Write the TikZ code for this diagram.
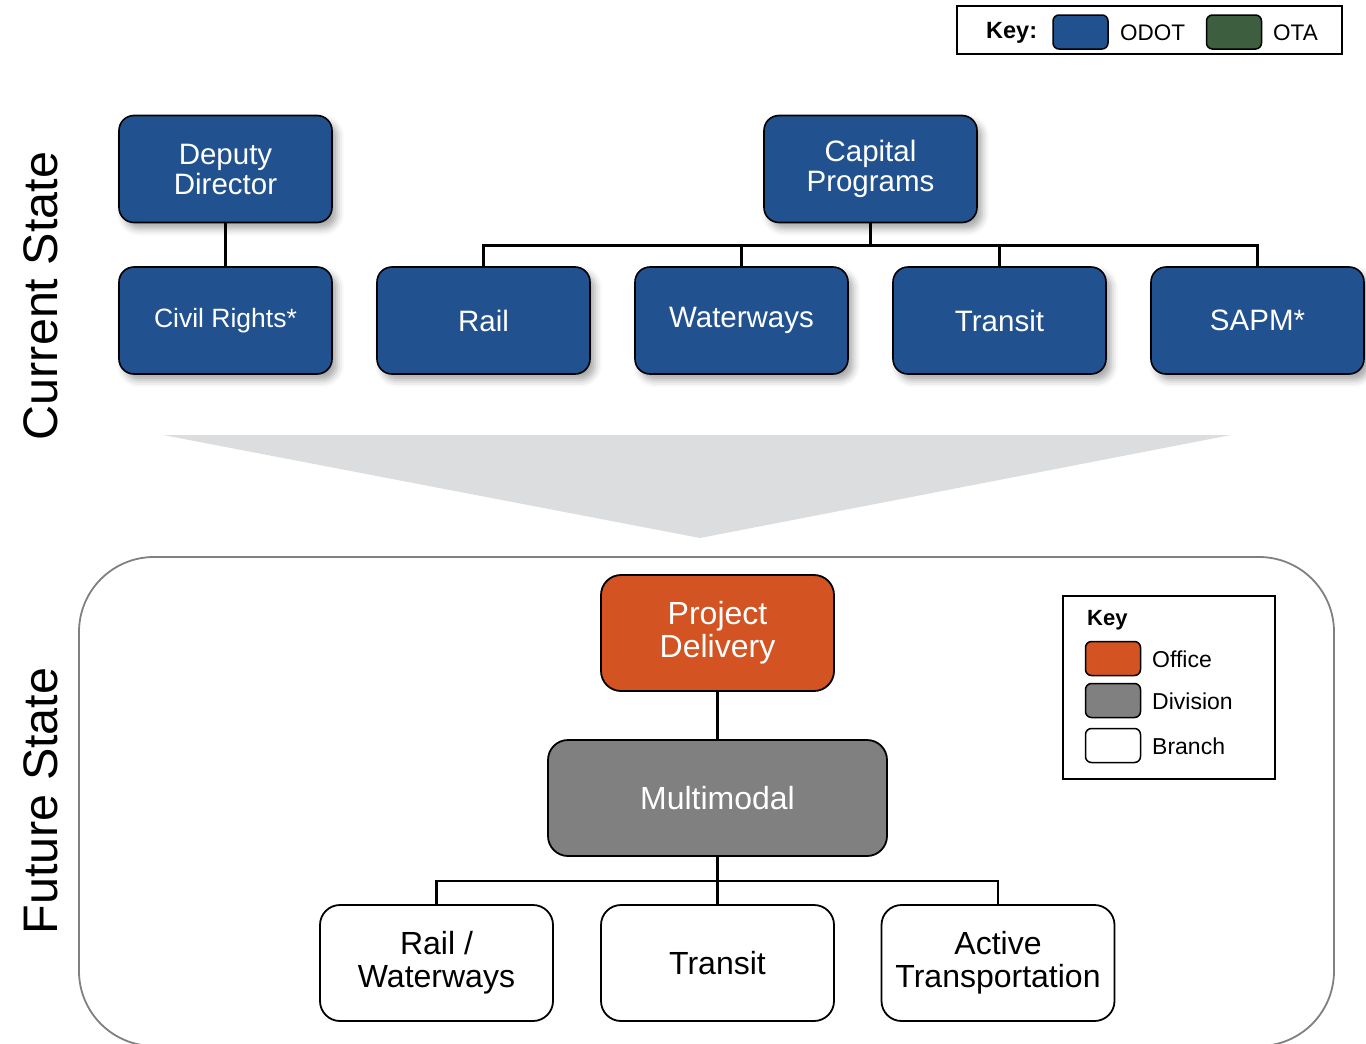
\documentclass[tikz,border=0pt]{standalone}
\usepackage{fontspec}
\setmainfont{Liberation Sans}
\definecolor{ODOTBlue}{HTML}{21528F}
\definecolor{OTAGreen}{HTML}{3D5E3F}
\definecolor{OfficeOrange}{HTML}{D35322}
\definecolor{DivGray}{HTML}{808080}
\definecolor{FunnelGray}{HTML}{DCDDDE}
\usetikzlibrary{positioning,shadows.blur,calc}
\begin{document}
\begin{tikzpicture}[x=1pt, y=-1pt,
    unit/.style={rectangle, rounded corners=15pt, draw=black, line width=1.6pt, fill=ODOTBlue,
      text=white, minimum width=213pt, minimum height=107pt, align=center,
      font=\fontsize{29.5}{30}\selectfont,
      blur shadow={shadow xshift=5pt, shadow yshift=-6pt, shadow blur radius=7pt, shadow opacity=35}},
    future/.style={rectangle, rounded corners=20pt, draw=black, line width=1.8pt, fill=#1,
      minimum width=233pt, minimum height=116pt, align=center, font=\fontsize{32}{33}\selectfont},
    swatch/.style={rectangle, rounded corners=6pt, draw=black, line width=1.5pt, fill=#1,
      minimum width=55pt, minimum height=34pt},
    keytext/.style={anchor=west, font=\fontsize{23}{24}\selectfont},
    link/.style={line width=2.4pt},
    every node/.style={inner sep=0pt}]
    \clip (0,0) rectangle (1366,1044);
    \useasboundingbox (0,0) rectangle (1366,1044);
    % top key
    \node[draw, line width=1.5pt, minimum width=385pt, minimum height=48pt] (topkey) at (1149.5,30) {};
    \node[keytext, font=\fontsize{23.5}{24}\selectfont\bfseries] (topkeylbl) at (986,33) {Key:};
    \node[swatch=ODOTBlue] (odotsw) at (1080.5,32) {};
    \node[keytext, font=\fontsize{22.5}{24}\selectfont] (odotlbl) at (1120,33) {ODOT};
    \node[swatch=OTAGreen] (otasw) at (1234,32) {};
    \node[keytext, font=\fontsize{22.5}{24}\selectfont] (otalbl) at (1273,33) {OTA};
    % current state
    \node[rotate=90, font=\fontsize{48.5}{50}\selectfont] (curstate) at (41,296) {Current State};
    \node[unit] (deputy) at (225.5,169) {Deputy\\Director};
    \node[unit] (capital) at (870.5,169) {Capital\\Programs};
    \node[unit, font=\fontsize{26.5}{28}\selectfont] (civil) at (225.5,320.5) {Civil Rights*};
    \node[unit] (rail) at (483.5,320.5) {Rail};
    \node[unit] (waterways) at (741.5,320.5) {Waterways};
    \node[unit] (transit) at (999.5,320.5) {Transit};
    \node[unit] (sapm) at (1257.5,320.5) {SAPM*};
    \draw[link] (deputy) -- (civil);
    \foreach \n in {rail,waterways,transit,sapm}
      \draw[link] (capital.south) -- ++(0,22) -| (\n.north);
    % funnel
    \fill[FunnelGray] (163,435) -- (1231,435) -- (700,538) -- cycle;
    % future state
    \draw[DivGray, line width=1.8pt, rounded corners=75pt] (79,557) rectangle (1334,1046);
    \node[rotate=90, font=\fontsize{48.5}{50}\selectfont] (futstate) at (41,801) {Future State};
    \node[future=OfficeOrange, text=white] (delivery) at (717.5,633) {Project\\Delivery};
    \node[future=DivGray, text=white, minimum width=339pt] (multimodal) at (717.5,798) {Multimodal};
    \node[future=white] (railwater) at (436.5,963) {Rail /\\Waterways};
    \node[future=white] (futtransit) at (717.5,963) {Transit};
    \node[future=white] (active) at (998,963) {Active\\Transportation};
    \draw[link] (delivery) -- (multimodal);
    \foreach \n in {railwater,futtransit,active}
      \draw[link] (multimodal.south) -- ++(0,24) -| (\n.north);
    % bottom key
    \node[draw, line width=1.5pt, minimum width=212pt, minimum height=183pt] (botkey) at (1169,687.5) {};
    \node[keytext, font=\fontsize{22}{24}\selectfont\bfseries] (botkeylbl) at (1087,620) {Key};
    \node[swatch=OfficeOrange] (officesw) at (1113,658.5) {};
    \node[keytext] (officelbl) at (1152,659) {Office};
    \node[swatch=DivGray] (divsw) at (1113,700.5) {};
    \node[keytext] (divlbl) at (1152,701) {Division};
    \node[swatch=white] (branchsw) at (1113,745.5) {};
    \node[keytext] (branchlbl) at (1152,746) {Branch};
\end{tikzpicture}
\end{document}
